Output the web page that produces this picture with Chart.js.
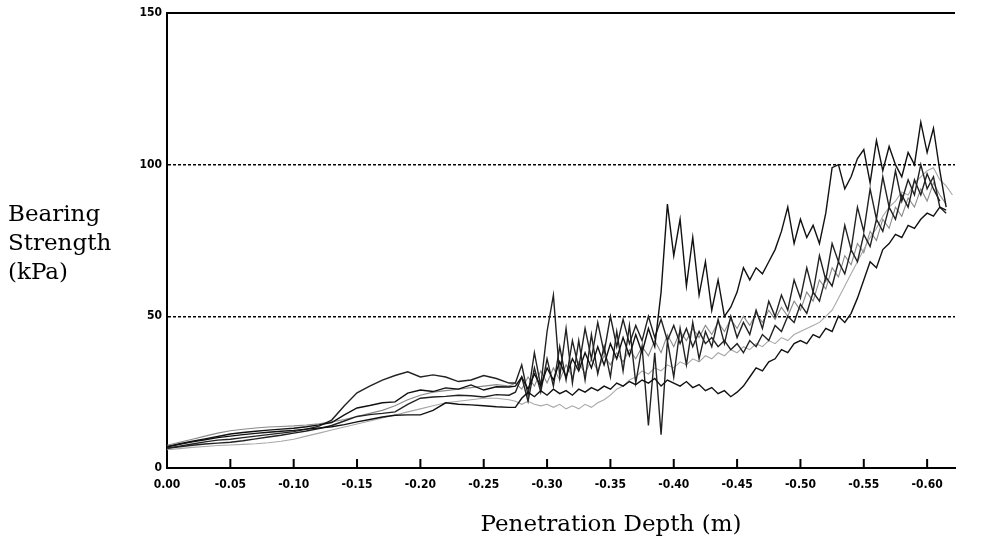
<!DOCTYPE html>
<html>
<head>
<meta charset="utf-8">
<script src="https://cdn.jsdelivr.net/npm/chart.js@4"></script>
<style>
  body { margin: 0; background: #fff; }
  #wrap { position: relative; width: 981px; height: 541px; }
  .title { position: absolute; font-family: "DejaVu Serif", serif; font-size: 23px; line-height: 29px; color: #000; }
  #yTitle { left: 8px; top: 199px; }
  #xTitle { left: 411px; top: 509px; width: 400px; text-align: center; }
</style>
</head>
<body>
<div id="wrap">
  <canvas id="depthChart" width="981" height="541"></canvas>
  <div class="title" id="yTitle">Bearing<br>Strength<br>(kPa)</div>
  <div class="title" id="xTitle">Penetration Depth (m)</div>
</div>
<script>
// penetration depth (m), coarse where the traces are smooth, finer where they get noisy
const depth = [
    0, -0.01, -0.02, -0.03, -0.04, -0.05, -0.06, -0.07, -0.08, -0.09,
    -0.10, -0.11, -0.12, -0.13, -0.14, -0.15, -0.16, -0.17, -0.18, -0.19,
    -0.20, -0.21, -0.22, -0.23, -0.24, -0.25, -0.26, -0.27,
    -0.275, -0.28, -0.285, -0.29, -0.295, -0.30, -0.305, -0.31, -0.315, -0.32,
    -0.325, -0.33, -0.335, -0.34, -0.345, -0.35, -0.355, -0.36, -0.365, -0.37,
    -0.375, -0.38, -0.385, -0.39, -0.395, -0.40, -0.405, -0.41, -0.415, -0.42,
    -0.425, -0.43, -0.435, -0.44, -0.445, -0.45, -0.455, -0.46, -0.465, -0.47,
    -0.475, -0.48, -0.485, -0.49, -0.495, -0.50, -0.505, -0.51, -0.515, -0.52,
    -0.525, -0.53, -0.535, -0.54, -0.545, -0.55, -0.555, -0.56, -0.565, -0.57,
    -0.575, -0.58, -0.585, -0.59, -0.595, -0.60, -0.605, -0.61, -0.615, -0.62
];

// bearing strength (kPa) of each penetrometer run
const runA = [
    7, 8, 8.8, 9.6, 10.4, 11.2, 11.7, 12.1, 12.5, 12.8,
    13.1, 13.6, 14.2, 15, 17.5, 19.8, 20.6, 21.5, 21.8, 24.7,
    25.7, 25.2, 26.4, 26, 27.4, 25.7, 26.8, 26.7,
    27, 30, 26, 31, 27, 33, 29, 35, 30, 36,
    32, 38, 33, 40, 34, 41, 36, 43, 37, 44,
    38, 46, 40, 58, 87, 70, 82, 60, 76, 57,
    68, 52, 62, 50, 53, 58, 66, 62, 66, 64,
    68, 72, 78, 86, 74, 82, 76, 80, 74, 84,
    99, 100, 92, 96, 102, 105, 94, 108, 98, 106,
    100, 96, 104, 100, 114, 104, 112, 98, 86, null
];
const runB = [
    7, 7.8, 8.6, 9.3, 10, 10.5, 11, 11.4, 11.8, 12.1,
    12.4, 12.8, 13.2, 13.6, 14.3, 15.2, 16, 16.8, 17.4, 17.5,
    17.5, 19, 21.5, 21, 20.8, 20.5, 20.2, 20,
    20, 23, 25, 23.5, 25.5, 24, 26, 24.5, 25.5, 24,
    26, 25, 26.5, 25.5, 27, 26, 28, 27, 28.5, 27.5,
    29, 28, 29.5, 27, 29, 28, 27, 28.5, 26.5, 27.5,
    25.5, 26.5, 24.5, 25.5, 23.5, 25, 27, 30, 33, 32,
    35, 36, 39, 38, 41, 42, 41, 44, 43, 46,
    45, 50, 48, 51, 56, 62, 68, 66, 72, 74,
    77, 76, 80, 79, 82, 84, 83, 86, 85, null
];
const runC = [
    6.5, 7.2, 7.9, 8.6, 9.2, 9.5, 10, 10.5, 11, 11.5,
    12, 12.8, 13.8, 15.8, 20.5, 24.8, 27, 29, 30.5, 31.7,
    30, 30.7, 30, 28.5, 29, 30.5, 29.5, 28,
    28, 34, 24, 38, 27, 45, 57, 30, 46, 28,
    42, 29, 44, 31, 40, 30, 45, 32, 47, 28,
    40, 14, 38, 11, 42, 30, 46, 34, 48, 36,
    45, 40, 49, 41, 50, 43, 48, 44, 52, 46,
    55, 50, 57, 52, 62, 56, 66, 58, 70, 62,
    74, 68, 80, 72, 86, 78, 92, 82, 96, 86,
    98, 88, 95, 90, 100, 92, 96, 86, 84, null
];
const runD = [
    6.5, 7, 7.5, 7.9, 8.2, 8.5, 9, 9.6, 10.2, 10.8,
    11.5, 12.2, 13, 14, 15.5, 17, 17.6, 18, 18.5, 21,
    23, 23.4, 23.6, 24, 23.8, 23.4, 24.2, 24,
    25, 30, 22, 33, 25, 36, 27, 40, 29, 42,
    33, 46, 36, 48, 38, 50, 40, 49, 41, 47,
    42, 50, 43, 49, 42, 47, 41, 46, 40, 45,
    41, 43, 40, 42, 39, 41, 38, 42, 40, 44,
    42, 47, 45, 50, 48, 54, 51, 58, 55, 63,
    60, 68, 64, 72, 68, 77, 73, 82, 78, 86,
    82, 90, 86, 95, 90, 97, 92, 88, null, null
];
const runE = [
    6, 6.4, 6.8, 7.1, 7.4, 7.6, 7.8, 8, 8.3, 8.8,
    9.5, 10.5, 11.5, 12.5, 13.5, 14.5, 15.5, 16.5, 17.5, 18.5,
    19.5, 20.5, 21.5, 22, 22.5, 23, 23, 22.5,
    22, 21, 22, 21, 20.5, 21, 20, 21, 19.5, 20.5,
    19.5, 21, 20, 21.5, 22.5, 24, 26, 27, 29, 30,
    32, 31, 33, 32, 34, 33, 35, 34, 36, 35,
    37, 36, 38, 37, 39, 38, 40, 39, 41, 40,
    42, 41, 43, 42, 44, 45, 46, 47, 48, 50,
    52, 56, 60, 64, 68, 72, 76, 79, 83, 86,
    88, 91, 90, 94, 96, 98, 99, 95, 93, 90
];
const runF = [
    7.5, 8.5, 9.5, 10.5, 11.5, 12.3, 12.8, 13.2, 13.5, 13.7,
    13.9, 14.2, 14.6, 15.2, 16, 17, 18, 19, 20.5, 22.5,
    24, 25, 25.5, 26, 26.5, 27, 27.5, 27,
    28, 26, 30, 27, 32, 28, 33, 29, 34, 30,
    35, 31, 36, 32, 37, 34, 38, 35, 39, 36,
    40, 37, 42, 38, 44, 40, 45, 42, 46, 43,
    47, 44, 48, 45, 49, 46, 50, 47, 51, 48,
    52, 49, 53, 50, 55, 52, 58, 55, 62, 59,
    66, 63, 70, 67, 74, 71, 78, 75, 82, 79,
    86, 83, 89, 86, 92, 88, 94, 90, 87, null
];

const runs = [runA, runB, runC, runD, runE, runF];
const runColors = ['#111', '#111', '#222', '#222', '#a8a8a8', '#8a8a8a'];

const yTicks = [0, 50, 100, 150];
const refLines = [50, 100];

const tickFont = { family: '"DejaVu Sans Condensed", "Liberation Sans Narrow", "DejaVu Sans", sans-serif', size: 12, weight: 'bold' };

// inward tick marks on the depth axis and the frame line at the top
const framePlugin = {
    id: 'frame',
    afterDraw(chart) {
        const { ctx, chartArea, scales } = chart;
        ctx.save();
        ctx.strokeStyle = '#000';
        ctx.lineWidth = 2;
        ctx.beginPath();
        scales.x.ticks.forEach(t => {
            const px = scales.x.getPixelForValue(t.value);
            ctx.moveTo(px, chartArea.bottom);
            ctx.lineTo(px, chartArea.bottom - 9);
        });
        ctx.moveTo(chartArea.left, chartArea.top);
        ctx.lineTo(chartArea.right, chartArea.top);
        ctx.stroke();
        ctx.restore();
    }
};

const datasets = runs.map((run, i) => ({
    label: 'Run ' + (i + 1),
    data: depth.map((d, j) => ({ x: d, y: run[j] })),
    borderColor: runColors[i],
    borderWidth: i < 4 ? 1.4 : 1.1,
    pointRadius: 0,
    tension: 0,
    spanGaps: false
}));

const ctx = document.getElementById('depthChart').getContext('2d');
new Chart(ctx, {
    type: 'line',
    data: { datasets: datasets },
    options: {
        responsive: false,
        animation: false,
        layout: { padding: { top: 13, right: 26, left: 0, bottom: 0 } },
        plugins: {
            legend: { display: false },
            tooltip: { enabled: false }
        },
        scales: {
            x: {
                type: 'linear',
                reverse: true,
                min: -0.622,
                max: 0,
                afterFit: scale => { scale.height = 73; },
                grid: { display: false, drawTicks: false },
                border: { display: true, color: '#000', width: 2 },
                ticks: {
                    stepSize: 0.05,
                    includeBounds: false,
                    autoSkip: false,
                    maxRotation: 0,
                    padding: 10,
                    color: '#000',
                    font: tickFont,
                    callback: v => (Math.abs(v) < 1e-9 ? '0.00' : v.toFixed(2))
                }
            },
            y: {
                min: 0,
                max: 150,
                afterFit: scale => { scale.width = 167; },
                afterBuildTicks: scale => { scale.ticks = yTicks.map(v => ({ value: v })); },
                grid: {
                    drawTicks: false,
                    lineWidth: 1.5,
                    color: c => (refLines.includes(c.tick && c.tick.value) ? '#000' : 'rgba(0,0,0,0)')
                },
                border: { display: true, color: '#000', width: 2, dash: [3, 2] },
                ticks: {
                    padding: 5,
                    color: '#000',
                    font: tickFont
                }
            }
        }
    },
    plugins: [framePlugin]
});
</script>
</body>
</html>
